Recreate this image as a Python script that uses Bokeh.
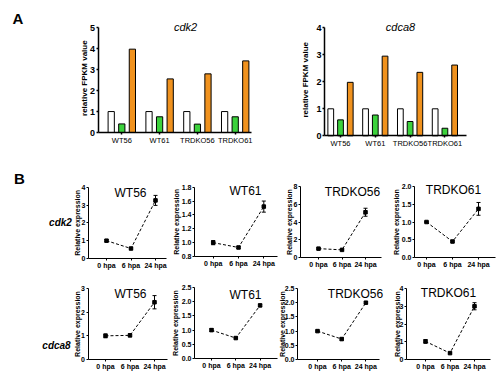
from math import pi
from bokeh.plotting import figure
from bokeh.models import (Range1d, LinearAxis, FixedTicker, Label, ColumnDataSource,
                          Whisker, TeeHead, PrintfTickFormatter)
from bokeh.transform import dodge
from bokeh.embed import file_html
from bokeh.resources import INLINE

# ---------------- data ----------------
groups = ["WT56", "WT61", "TRDKO56", "TRDKO61"]
cdk2_white = [1.0, 1.0, 1.0, 1.0]
cdk2_green = [0.41, 0.75, 0.40, 0.75]
cdk2_orange = [3.98, 2.56, 2.80, 3.42]
cdca8_white = [1.0, 1.0, 1.0, 1.0]
cdca8_green = [0.59, 0.77, 0.53, 0.28]
cdca8_orange = [1.98, 2.95, 2.35, 2.62]
fpkm_ticks_cdk2 = [0, 1, 2, 3, 4, 5]
fpkm_ticks_cdca8 = [0, 1, 2, 3, 4]

timepoints = ["0 hpa", "6 hpa", "24 hpa"]
cdk2_WT56 = [1.0, 0.56, 3.26]
cdk2_WT56_err = [0.06, 0.04, 0.28]
cdk2_WT61 = [1.0, 0.93, 1.52]
cdk2_WT61_err = [0.03, 0.015, 0.08]
cdk2_TRDKO56 = [1.0, 0.86, 5.1]
cdk2_TRDKO56_err = [0.08, 0.05, 0.45]
cdk2_TRDKO61 = [1.0, 0.45, 1.37]
cdk2_TRDKO61_err = [0.015, 0.02, 0.18]
cdca8_WT56 = [1.0, 1.02, 2.42]
cdca8_WT56_err = [0.08, 0.06, 0.28]
cdca8_WT61 = [1.0, 0.72, 1.87]
cdca8_WT61_err = [0.05, 0.03, 0.04]
cdca8_TRDKO56 = [1.0, 0.72, 2.0]
cdca8_TRDKO56_err = [0.03, 0.04, 0.03]
cdca8_TRDKO61 = [1.02, 0.36, 3.0]
cdca8_TRDKO61_err = [0.1, 0.04, 0.2]

ticks_cdk2_WT56 = [0, 1, 2, 3, 4]
ticks_cdk2_WT61 = [0.8, 1.0, 1.2, 1.4, 1.6, 1.8]
ticks_cdk2_TRDKO56 = [0, 2, 4, 6, 8]
ticks_cdk2_TRDKO61 = [0.0, 0.5, 1.0, 1.5, 2.0]
ticks_cdca8_WT56 = [0, 1, 2, 3]
ticks_cdca8_WT61 = [0.0, 0.5, 1.0, 1.5, 2.0, 2.5]
ticks_cdca8_TRDKO56 = [0.0, 0.5, 1.0, 1.5, 2.0, 2.5]
ticks_cdca8_TRDKO61 = [0, 1, 2, 3, 4]

# ---------------- canvas ----------------
W, H = 500, 375
FONT = "Liberation Sans"
GREEN = "#3cd23c"
ORANGE = "#f0921e"

p = figure(width=W, height=H, x_range=Range1d(0, W), y_range=Range1d(0, H),
           x_axis_type=None, y_axis_type=None, toolbar_location=None,
           output_backend="svg", min_border=0, outline_line_color=None)
p.background_fill_color = "white"


def label(text, x, ytop, size, style="normal", angle=0.0, align="center"):
    p.add_layout(Label(x=x, y=H - ytop, text=text, text_font=FONT,
                       text_font_size=f"{size}px", text_font_style=style,
                       text_align=align, text_baseline="middle", angle=angle,
                       text_color="black"))


def make_panel(name, L, R, T, B, x0, dx, ya, yb):
    """frame region for one sub-chart: pixel box and scales"""
    sy = (B - T) / (yb - ya)
    p.extra_x_ranges[name] = Range1d(-x0 / dx, (W - x0) / dx)
    p.extra_y_ranges[name] = Range1d(ya - (H - B) / sy, yb + T / sy)
    return (L - x0) / dx, (R - x0) / dx


def add_axes(name, xa, xb, ya, yb, xlabels, yticks, yfmt, ysize, xsize, xstyle,
             lw, ystyle="bold"):
    common = dict(x_range_name=name, y_range_name=name,
                  axis_line_color="black", axis_line_width=lw,
                  major_tick_line_color="black", major_tick_line_width=lw,
                  major_tick_in=0, major_tick_out=2, minor_tick_out=0, minor_tick_in=0,
                  major_label_standoff=1, major_label_text_font=FONT,
                  major_label_text_color="black")
    yax = LinearAxis(fixed_location=xa, bounds=(ya, yb),
                     ticker=FixedTicker(ticks=yticks, minor_ticks=[]),
                     formatter=PrintfTickFormatter(format=yfmt),
                     major_label_text_font_size=f"{ysize}px",
                     major_label_text_font_style=ystyle, **common)
    p.add_layout(yax, "left")
    xax = LinearAxis(fixed_location=ya, bounds=(xa, xb),
                     ticker=FixedTicker(ticks=list(range(len(xlabels))), minor_ticks=[]),
                     major_label_overrides={i: t for i, t in enumerate(xlabels)},
                     major_label_text_font_size=f"{xsize}px",
                     major_label_text_font_style=xstyle, **common)
    p.add_layout(xax, "below")


# ---------------- panel A: bar charts ----------------
bar_panels = [
    # name, title, white, green, orange, ticks, box (L, R, T, B, x0, dx), title pos, ylabel x
    ("a1", "cdk2", cdk2_white, cdk2_green, cdk2_orange, fpkm_ticks_cdk2,
     (97.5, 251, 27.3, 132, 121.3, 37.8), (185, 26), 84),
    ("a2", "cdca8", cdca8_white, cdca8_green, cdca8_orange, fpkm_ticks_cdca8,
     (324, 466, 27.3, 135.3, 340, 34.8), (400, 26), 305),
]
for name, title, wv, gv, ov, ticks, box, tpos, ylx in bar_panels:
    L, R, T, B, x0, dx = box
    ya, yb = ticks[0], ticks[-1]
    xa, xb = make_panel(name, L, R, T, B, x0, dx, ya, yb)
    src = ColumnDataSource(dict(pos=list(range(len(groups))), white=wv, green=gv, orange=ov))
    for col, off, color in (("white", -0.28, "white"), ("green", 0.0, GREEN),
                            ("orange", 0.28, ORANGE)):
        p.vbar(x=dodge("pos", off), top=col, bottom=0, width=0.165, source=src,
               fill_color=color, line_color="black", line_width=1,
               x_range_name=name, y_range_name=name)
    add_axes(name, xa, xb, ya, yb, groups, ticks, "%d", 9, 7.5, "normal", 1.5)
    label(title, tpos[0], tpos[1], 11, "italic")
    label("relative FPKM value", ylx, (T + B) / 2 - 2, 8, "bold", angle=pi / 2)

# ---------------- panel B: time courses ----------------
line_panels = [
    ("b1", "WT56", cdk2_WT56, cdk2_WT56_err, ticks_cdk2_WT56, "%d",
     (88, 166, 186.7, 258, 106, 24.5), (130, 192), 77),
    ("b2", "WT61", cdk2_WT61, cdk2_WT61_err, ticks_cdk2_WT61, "%.1f",
     (194, 277, 186.7, 256, 212.7, 25.3), (245, 190), 176),
    ("b3", "TRDKO56", cdk2_TRDKO56, cdk2_TRDKO56_err, ticks_cdk2_TRDKO56, "%d",
     (300, 381, 186, 257, 318, 23.5), (352, 191), 289),
    ("b4", "TRDKO61", cdk2_TRDKO61, cdk2_TRDKO61_err, ticks_cdk2_TRDKO61, "%.1f",
     (414, 495, 186, 257, 426, 26), (453, 189), 396),
    ("b5", "WT56", cdca8_WT56, cdca8_WT56_err, ticks_cdca8_WT56, "%d",
     (87.5, 167, 288, 359, 105, 24.5), (130, 293), 76.7),
    ("b6", "WT61", cdca8_WT61, cdca8_WT61_err, ticks_cdca8_WT61, "%.1f",
     (194, 277, 287, 358, 211, 24.3), (245, 294), 175),
    ("b7", "TRDKO56", cdca8_TRDKO56, cdca8_TRDKO56_err, ticks_cdca8_TRDKO56, "%.1f",
     (297, 379, 288, 359, 317, 24.2), (355, 293), 282),
    ("b8", "TRDKO61", cdca8_TRDKO61, cdca8_TRDKO61_err, ticks_cdca8_TRDKO61, "%d",
     (406, 490, 288, 359, 425, 24.5), (448, 292), 397),
]
for name, title, vals, errs, ticks, fmt, box, tpos, ylx in line_panels:
    L, R, T, B, x0, dx = box
    ya, yb = ticks[0], ticks[-1]
    xa, xb = make_panel(name, L, R, T, B, x0, dx, ya, yb)
    src = ColumnDataSource(dict(
        x=list(range(len(timepoints))), y=vals,
        lo=[v - e for v, e in zip(vals, errs)], hi=[v + e for v, e in zip(vals, errs)]))
    p.line("x", "y", source=src, line_color="black", line_width=1, line_dash="3 2",
           x_range_name=name, y_range_name=name)
    p.add_layout(Whisker(base="x", lower="lo", upper="hi", source=src,
                         line_color="black", line_width=1,
                         upper_head=TeeHead(size=4, line_width=1, line_color="black"),
                         lower_head=TeeHead(size=4, line_width=1, line_color="black"),
                         x_range_name=name, y_range_name=name))
    p.scatter("x", "y", source=src, marker="square", size=3.5, fill_color="black",
              line_color="black", x_range_name=name, y_range_name=name)
    add_axes(name, xa, xb, ya, yb, timepoints, ticks, fmt, 7, 7, "bold", 1)
    label(title, tpos[0], tpos[1], 12)
    label("Relative expression", ylx, (T + B) / 2, 7, "bold", angle=pi / 2)

# ---------------- figure letters & row labels ----------------
label("A", 17.5, 17.5, 15, "bold")
label("B", 19, 177.5, 15, "bold")
label("cdk2", 60, 222, 10, "bold italic")
label("cdca8", 56, 345, 10, "bold italic")

open("out.html", "w").write(file_html(p, INLINE))
